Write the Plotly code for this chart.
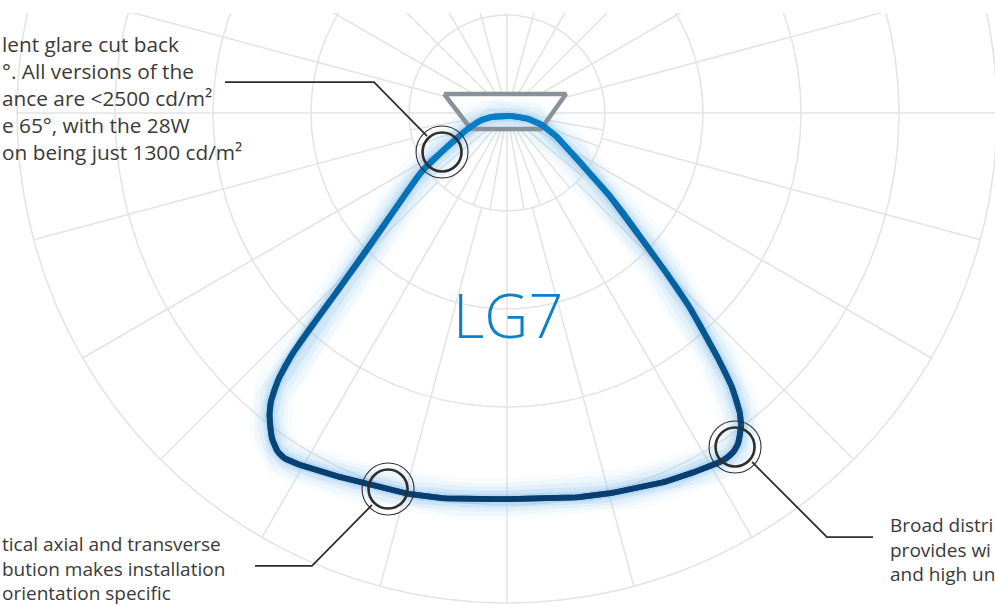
import numpy as np
import plotly.graph_objects as go

# ---------------- data ----------------
# Polar light-distribution curve: angle from nadir (deg, + to the right), intensity (grid units)
CURVE_ANGLE = [0, 8.3, 13.7, 20.0, 23.9, 28.4, 31.7, 34.1, 35.9, 37.3, 38.3, 39.6, 41.4,
               43.6, 46.2, 49.6, 51.3, 53.2, 56.1, 59.7, 64.9, 71.6, 74.5, 0,
               -76, -69.3, -60.5, -55.8, -49.8, -45.6, -43.4, -42.2, -41.0, -39.4, -37.7,
               -35.4, -32.8, -28.0, -23.2, -17.7, -13.8, -8.9]
CURVE_INTENSITY = [394, 397, 401, 406, 410, 414, 417.5, 415, 405.6, 394, 380, 357, 313,
                   263, 202, 153, 132, 111, 90, 71, 55, 36, 19, 3,
                   21, 40, 70, 104, 146, 200, 258, 310, 350, 379, 396,
                   412, 419, 413, 407, 403, 401, 398]

GRID_RADII = [100, 200, 300, 400, 500]
SPOKE_STEP_OUTER = 15
SPOKE_STEP_INNER = 10

LABEL = "LG7"

# callout circles (grid units) and their leader lines
CALLOUT_X = [-66.3, -121.4, 232.7]
CALLOUT_Y = [-39.8, -383.7, -340.8]
LEADERS = [
    ([-81.6, -135.7, -287.8], [-23.5, 31.6, 31.6]),
    ([-137.8, -199.0, -257.1], [-400.0, -462.2, -462.2]),
    ([250.0, 326.5, 373.5], [-356.1, -432.7, -432.7]),
]
TEXT_UL = ["lent glare cut back", "°. All versions of the", "ance are <2500 cd/m²",
           "e 65°, with the 28W", "on being just 1300 cd/m²"]
TEXT_BL = ["tical axial and transverse", "bution makes installation", "orientation specific"]
TEXT_BR = ["Broad distri", "provides wi", "and high un"]

# luminaire outline (grid units)
LUM_X = [-64.3, 60.2, 34.7, -36.7]
LUM_Y = [19.4, 19.4, -16.3, -16.3]

# ---------------- layout constants ----------------
W, H = 995, 606
TOP = 13
CX_PX, CY_PX = 507, 113
SCALE = 0.98  # px per grid unit


def px_x(px):
    return (px - CX_PX) / SCALE


def px_y(py):
    return (CY_PX - py) / SCALE


fig = go.Figure()

# ---------------- polar grid ----------------
gx, gy = [], []
t = np.linspace(0, 2 * np.pi, 721)
for rr in GRID_RADII:
    gx += list(rr * np.cos(t)) + [None]
    gy += list(rr * np.sin(t)) + [None]
r_in, r_out = GRID_RADII[0], GRID_RADII[-1]
for a in range(90, 271, SPOKE_STEP_OUTER):          # upper half, from centre
    ar = np.radians(a)
    gx += [0, r_out * np.sin(ar), None]
    gy += [0, -r_out * np.cos(ar), None]
for a in range(-75, 76, SPOKE_STEP_OUTER):           # lower half, outer rings
    ar = np.radians(a)
    gx += [r_in * np.sin(ar), r_out * np.sin(ar), None]
    gy += [-r_in * np.cos(ar), -r_out * np.cos(ar), None]
for a in range(-80, 81, SPOKE_STEP_INNER):           # lower half, inner ring
    ar = np.radians(a)
    gx += [0, r_in * np.sin(ar), None]
    gy += [0, -r_in * np.cos(ar), None]
fig.add_trace(go.Scatter(x=gx, y=gy, mode="lines", line=dict(color="#e3e3e3", width=1.5),
                         hoverinfo="skip", showlegend=False))

# luminaire white fill (hides the spokes)
fig.add_trace(go.Scatter(x=LUM_X + [LUM_X[0]], y=LUM_Y + [LUM_Y[0]], mode="lines",
                         fill="toself", fillcolor="white", line=dict(width=0, color="white"),
                         hoverinfo="skip", showlegend=False))

# ---------------- curve (smooth closed path through the read values) ----------------
th = np.radians(CURVE_ANGLE)
rr = np.array(CURVE_INTENSITY, dtype=float)
px_ = rr * np.sin(th)
py_ = -rr * np.cos(th)
n = len(px_)
sx, sy = [], []
SUB = 10
for i in range(n):
    p0 = np.array([px_[(i - 1) % n], py_[(i - 1) % n]])
    p1 = np.array([px_[i], py_[i]])
    p2 = np.array([px_[(i + 1) % n], py_[(i + 1) % n]])
    p3 = np.array([px_[(i + 2) % n], py_[(i + 2) % n]])
    for s in np.linspace(0, 1, SUB, endpoint=False):
        s2, s3 = s * s, s * s * s
        q = 0.5 * ((2 * p1) + (-p0 + p2) * s + (2 * p0 - 5 * p1 + 4 * p2 - p3) * s2
                   + (-p0 + 3 * p1 - 3 * p2 + p3) * s3)
        sx.append(q[0])
        sy.append(q[1])
sx.append(sx[0])
sy.append(sy[0])
sx = np.array(sx)
sy = np.array(sy)

for w, col in [(42, "rgba(175,212,243,0.08)"), (33, "rgba(160,203,240,0.10)"),
               (25, "rgba(140,192,236,0.13)"), (17, "rgba(120,182,233,0.17)"),
               (10, "rgba(100,172,230,0.22)")]:
    fig.add_trace(go.Scatter(x=sx, y=sy, mode="lines", line=dict(color=col, width=w),
                             hoverinfo="skip", showlegend=False))

# luminaire outline
fig.add_trace(go.Scatter(x=LUM_X + [LUM_X[0]], y=LUM_Y + [LUM_Y[0]], mode="lines",
                         line=dict(color="#8b9198", width=4.5), hoverinfo="skip", showlegend=False))

top_c = np.array([4, 126, 199])
bot_c = np.array([9, 62, 110])
NLEV = 28


def level(ypx):
    f = np.clip((ypx - 130) / (470 - 130), 0, 1)
    return int(round(f * (NLEV - 1)))


def col_of(lv):
    c = top_c + (bot_c - top_c) * (lv / (NLEV - 1))
    return "rgb(%d,%d,%d)" % tuple(c.round().astype(int))


fig.add_trace(go.Scatter(x=sx, y=sy, mode="lines", line=dict(color=col_of(NLEV // 2), width=5.8),
                         hoverinfo="skip", showlegend=False))
ypx_all = CY_PX - sy * SCALE
levels = [level(v) for v in ypx_all]
start = 0
m = len(sx)
while start < m - 1:
    lv = levels[start]
    end = start
    while end + 1 < m - 1 and levels[end + 1] == lv:
        end += 1
    seg = slice(start, min(end + 2, m))
    fig.add_trace(go.Scatter(x=sx[seg], y=sy[seg], mode="lines",
                             line=dict(color=col_of(lv), width=5.8),
                             hoverinfo="skip", showlegend=False))
    start = end + 1

# ---------------- callouts ----------------
for lx, ly in LEADERS:
    fig.add_trace(go.Scatter(x=lx, y=ly, mode="lines", line=dict(color="#2e2e2e", width=1.8),
                             hoverinfo="skip", showlegend=False))
fig.add_trace(go.Scatter(x=CALLOUT_X, y=CALLOUT_Y, mode="markers",
                         marker=dict(symbol="circle-open", size=52, color="#2e2e2e", line=dict(width=1.1)),
                         hoverinfo="skip", showlegend=False))
fig.add_trace(go.Scatter(x=CALLOUT_X, y=CALLOUT_Y, mode="markers",
                         marker=dict(symbol="circle-open", size=39, color="#2e2e2e", line=dict(width=2.6)),
                         hoverinfo="skip", showlegend=False))

text_color = "#3a3a3a"
fig.add_annotation(x=px_x(0), y=px_y(98), xref="x", yref="y", text="<br>".join(TEXT_UL),
                   showarrow=False, xanchor="left", yanchor="middle", align="left",
                   font=dict(family="Open Sans", size=20.8, color=text_color))
fig.add_annotation(x=px_x(0), y=px_y(568), xref="x", yref="y", text="<br>".join(TEXT_BL),
                   showarrow=False, xanchor="left", yanchor="middle", align="left",
                   font=dict(family="Open Sans", size=19, color=text_color))
fig.add_annotation(x=px_x(888), y=px_y(549), xref="x", yref="y", text="<br>".join(TEXT_BR),
                   showarrow=False, xanchor="left", yanchor="middle", align="left",
                   font=dict(family="Open Sans", size=19, color=text_color))
fig.add_annotation(x=px_x(508), y=px_y(314), xref="x", yref="y", text=LABEL, showarrow=False,
                   xanchor="center", yanchor="middle",
                   font=dict(family="Open Sans", size=61, color="#0a80c8", weight=300))

fig.update_layout(
    width=W, height=H,
    margin=dict(l=0, r=0, t=TOP, b=0, pad=0),
    paper_bgcolor="white", plot_bgcolor="white",
    showlegend=False,
    xaxis=dict(range=[px_x(0), px_x(W)], visible=False, fixedrange=True),
    yaxis=dict(range=[px_y(H), px_y(TOP)], visible=False, fixedrange=True),
)
fig.write_html("out.html", config={"displayModeBar": False, "staticPlot": True},
               post_script="document.body.style.margin='0';document.body.style.overflow='hidden';")
